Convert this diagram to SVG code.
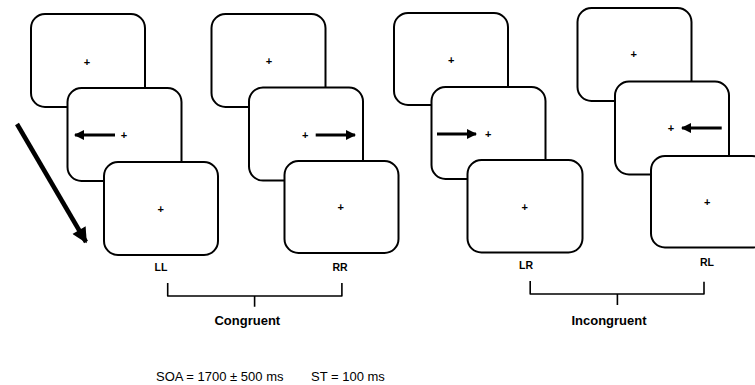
<svg xmlns="http://www.w3.org/2000/svg" width="755" height="385" viewBox="0 0 755 385">
<style>
.box{fill:#fff;stroke:#000;stroke-width:2}
.fx{font-family:"Liberation Sans",Arial,sans-serif;font-size:11px;font-weight:bold;text-anchor:middle;fill:#000}
.lab{font-family:"Liberation Sans",Arial,sans-serif;font-size:10.5px;font-weight:bold;text-anchor:middle;fill:#000}
.grp{font-family:"Liberation Sans",Arial,sans-serif;font-size:13px;font-weight:bold;text-anchor:middle;fill:#000}
.note{font-family:"Liberation Sans",Arial,sans-serif;font-size:13px;fill:#000}
.shaft{stroke:#000;stroke-width:3.2;fill:none}
.brace{stroke:#000;stroke-width:1.6;fill:none;stroke-linejoin:round}
</style>
<defs>
<marker id="ah" viewBox="0 0 10 10" refX="9" refY="5" markerWidth="3.2" markerHeight="3.2" markerUnits="strokeWidth" orient="auto">
<path d="M0,0 L10,5 L0,10 Z" fill="#000"/>
</marker>
<marker id="bigah" viewBox="0 0 10 10" refX="9" refY="5" markerWidth="3.6" markerHeight="3.4" markerUnits="strokeWidth" orient="auto">
<path d="M0,0 L10,5 L0,10 Z" fill="#000"/>
</marker>
</defs>

<g id="LL">
<rect class="box" x="31" y="14" width="114" height="93" rx="14"/>
<text class="fx" x="87" y="65.5">+</text>
<rect class="box" x="67.5" y="88" width="114" height="93" rx="14"/>
<line class="shaft" x1="115" y1="135" x2="75" y2="135" marker-end="url(#ah)"/>
<text class="fx" x="124" y="139">+</text>
<rect class="box" x="104" y="162" width="114" height="93" rx="14"/>
<text class="fx" x="160.7" y="213">+</text>
<text class="lab" x="161" y="271">LL</text>
</g>

<g id="RR">
<rect class="box" x="211.5" y="14" width="114" height="93" rx="14"/>
<text class="fx" x="269" y="65">+</text>
<rect class="box" x="249" y="87.5" width="114" height="93" rx="14"/>
<text class="fx" x="305.3" y="139">+</text>
<line class="shaft" x1="315.7" y1="135" x2="355" y2="135" marker-end="url(#ah)"/>
<rect class="box" x="284.5" y="161" width="114" height="92" rx="14"/>
<text class="fx" x="340.7" y="211">+</text>
<text class="lab" x="340" y="271">RR</text>
</g>

<g id="LR">
<rect class="box" x="394" y="13" width="114" height="92" rx="14"/>
<text class="fx" x="451.3" y="64">+</text>
<rect class="box" x="431.5" y="87" width="114" height="92" rx="14"/>
<line class="shaft" x1="437" y1="134" x2="476" y2="134" marker-end="url(#ah)"/>
<text class="fx" x="488.3" y="137.5">+</text>
<rect class="box" x="467.5" y="160" width="115" height="92.5" rx="14"/>
<text class="fx" x="524.7" y="211">+</text>
<text class="lab" x="526" y="269">LR</text>
</g>

<g id="RL">
<rect class="box" x="577.5" y="8" width="114" height="93" rx="14"/>
<text class="fx" x="633.7" y="58.3">+</text>
<rect class="box" x="615" y="81.5" width="114" height="93" rx="14"/>
<text class="fx" x="671" y="132">+</text>
<line class="shaft" x1="721.7" y1="128" x2="682" y2="128" marker-end="url(#ah)"/>
<rect class="box" x="651" y="156" width="115" height="91.5" rx="14"/>
<text class="fx" x="707.3" y="206">+</text>
<text class="lab" x="707" y="266">RL</text>
</g>

<g id="connectors">
<line x1="17" y1="124" x2="86" y2="242" stroke="#000" stroke-width="4.5" marker-end="url(#bigah)"/>
<path class="brace" d="M167.7,283 V296 H341.9 V283 M254.6,296 V306.7"/>
<path class="brace" d="M530.2,281 V294 H704 V281.7 M617.4,294 V305"/>
</g>

<g id="labels">
<text class="grp" x="247.3" y="325">Congruent</text>
<text class="grp" x="609" y="325">Incongruent</text>
<text class="note" x="156" y="381">SOA = 1700 ± 500 ms</text>
<text class="note" x="311" y="381">ST = 100 ms</text>
</g>
</svg>
